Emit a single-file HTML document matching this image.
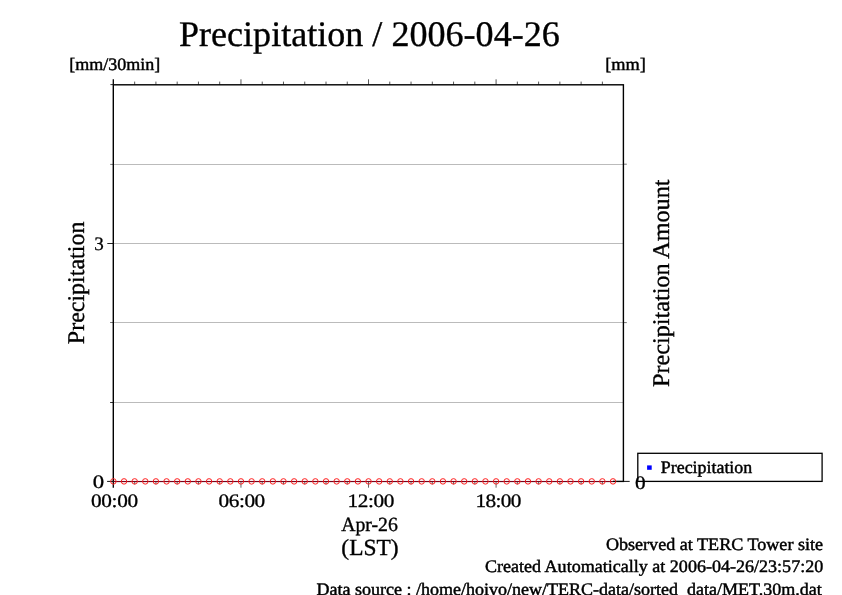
<!DOCTYPE html>
<html><head><meta charset="utf-8"><title>Precipitation / 2006-04-26</title>
<style>
html,body{margin:0;padding:0;background:#fff;width:842px;height:595px;overflow:hidden}
svg{display:block;will-change:transform}
text{font-family:"Liberation Serif","Times New Roman",serif;fill:#000;stroke:#000;stroke-width:0.35px;text-rendering:geometricPrecision} text.d{stroke-width:0.3px} text.s{stroke-width:0.45px}
</style></head><body>
<svg width="842" height="595" viewBox="0 0 842 595">
<rect width="842" height="595" fill="#fff"/>
<line x1="113.30" y1="164.5" x2="623.40" y2="164.5" stroke="#bbb" stroke-width="1"/>
<line x1="113.30" y1="243.5" x2="623.40" y2="243.5" stroke="#bbb" stroke-width="1"/>
<line x1="113.30" y1="322.5" x2="623.40" y2="322.5" stroke="#bbb" stroke-width="1"/>
<line x1="113.30" y1="402.5" x2="623.40" y2="402.5" stroke="#bbb" stroke-width="1"/>
<line x1="113.30" y1="84.80" x2="113.30" y2="79.30" stroke="#000" stroke-width="1.3"/>
<line x1="113.30" y1="481.40" x2="113.30" y2="487.70" stroke="#000" stroke-width="1.3"/>
<line x1="134.66" y1="84.80" x2="134.66" y2="81.60" stroke="#444" stroke-width="0.9"/>
<line x1="134.66" y1="481.40" x2="134.66" y2="484.40" stroke="#555" stroke-width="0.9"/>
<line x1="155.92" y1="84.80" x2="155.92" y2="81.60" stroke="#444" stroke-width="0.9"/>
<line x1="155.92" y1="481.40" x2="155.92" y2="484.40" stroke="#555" stroke-width="0.9"/>
<line x1="177.18" y1="84.80" x2="177.18" y2="81.60" stroke="#444" stroke-width="0.9"/>
<line x1="177.18" y1="481.40" x2="177.18" y2="484.40" stroke="#555" stroke-width="0.9"/>
<line x1="198.44" y1="84.80" x2="198.44" y2="81.60" stroke="#444" stroke-width="0.9"/>
<line x1="198.44" y1="481.40" x2="198.44" y2="484.40" stroke="#555" stroke-width="0.9"/>
<line x1="219.70" y1="84.80" x2="219.70" y2="81.60" stroke="#444" stroke-width="0.9"/>
<line x1="219.70" y1="481.40" x2="219.70" y2="484.40" stroke="#555" stroke-width="0.9"/>
<line x1="240.96" y1="84.80" x2="240.96" y2="79.30" stroke="#444" stroke-width="0.9"/>
<line x1="240.96" y1="481.40" x2="240.96" y2="487.70" stroke="#555" stroke-width="0.9"/>
<line x1="262.22" y1="84.80" x2="262.22" y2="81.60" stroke="#444" stroke-width="0.9"/>
<line x1="262.22" y1="481.40" x2="262.22" y2="484.40" stroke="#555" stroke-width="0.9"/>
<line x1="283.48" y1="84.80" x2="283.48" y2="81.60" stroke="#444" stroke-width="0.9"/>
<line x1="283.48" y1="481.40" x2="283.48" y2="484.40" stroke="#555" stroke-width="0.9"/>
<line x1="304.74" y1="84.80" x2="304.74" y2="81.60" stroke="#444" stroke-width="0.9"/>
<line x1="304.74" y1="481.40" x2="304.74" y2="484.40" stroke="#555" stroke-width="0.9"/>
<line x1="326.00" y1="84.80" x2="326.00" y2="81.60" stroke="#444" stroke-width="0.9"/>
<line x1="326.00" y1="481.40" x2="326.00" y2="484.40" stroke="#555" stroke-width="0.9"/>
<line x1="347.26" y1="84.80" x2="347.26" y2="81.60" stroke="#444" stroke-width="0.9"/>
<line x1="347.26" y1="481.40" x2="347.26" y2="484.40" stroke="#555" stroke-width="0.9"/>
<line x1="368.52" y1="84.80" x2="368.52" y2="79.30" stroke="#444" stroke-width="0.9"/>
<line x1="368.52" y1="481.40" x2="368.52" y2="487.70" stroke="#555" stroke-width="0.9"/>
<line x1="389.78" y1="84.80" x2="389.78" y2="81.60" stroke="#444" stroke-width="0.9"/>
<line x1="389.78" y1="481.40" x2="389.78" y2="484.40" stroke="#555" stroke-width="0.9"/>
<line x1="411.04" y1="84.80" x2="411.04" y2="81.60" stroke="#444" stroke-width="0.9"/>
<line x1="411.04" y1="481.40" x2="411.04" y2="484.40" stroke="#555" stroke-width="0.9"/>
<line x1="432.30" y1="84.80" x2="432.30" y2="81.60" stroke="#444" stroke-width="0.9"/>
<line x1="432.30" y1="481.40" x2="432.30" y2="484.40" stroke="#555" stroke-width="0.9"/>
<line x1="453.56" y1="84.80" x2="453.56" y2="81.60" stroke="#444" stroke-width="0.9"/>
<line x1="453.56" y1="481.40" x2="453.56" y2="484.40" stroke="#555" stroke-width="0.9"/>
<line x1="474.82" y1="84.80" x2="474.82" y2="81.60" stroke="#444" stroke-width="0.9"/>
<line x1="474.82" y1="481.40" x2="474.82" y2="484.40" stroke="#555" stroke-width="0.9"/>
<line x1="496.08" y1="84.80" x2="496.08" y2="79.30" stroke="#444" stroke-width="0.9"/>
<line x1="496.08" y1="481.40" x2="496.08" y2="487.70" stroke="#555" stroke-width="0.9"/>
<line x1="517.34" y1="84.80" x2="517.34" y2="81.60" stroke="#444" stroke-width="0.9"/>
<line x1="517.34" y1="481.40" x2="517.34" y2="484.40" stroke="#555" stroke-width="0.9"/>
<line x1="538.60" y1="84.80" x2="538.60" y2="81.60" stroke="#444" stroke-width="0.9"/>
<line x1="538.60" y1="481.40" x2="538.60" y2="484.40" stroke="#555" stroke-width="0.9"/>
<line x1="559.86" y1="84.80" x2="559.86" y2="81.60" stroke="#444" stroke-width="0.9"/>
<line x1="559.86" y1="481.40" x2="559.86" y2="484.40" stroke="#555" stroke-width="0.9"/>
<line x1="581.12" y1="84.80" x2="581.12" y2="81.60" stroke="#444" stroke-width="0.9"/>
<line x1="581.12" y1="481.40" x2="581.12" y2="484.40" stroke="#555" stroke-width="0.9"/>
<line x1="602.38" y1="84.80" x2="602.38" y2="81.60" stroke="#444" stroke-width="0.9"/>
<line x1="602.38" y1="481.40" x2="602.38" y2="484.40" stroke="#555" stroke-width="0.9"/>
<line x1="113.30" y1="84.6" x2="110.4" y2="84.6" stroke="#333" stroke-width="1"/>
<line x1="113.30" y1="164.4" x2="110.2" y2="164.4" stroke="#777" stroke-width="1"/>
<line x1="113.30" y1="243.5" x2="107.3" y2="243.5" stroke="#222" stroke-width="1"/>
<line x1="113.30" y1="322.5" x2="110.1" y2="322.5" stroke="#777" stroke-width="1"/>
<line x1="113.30" y1="402.5" x2="110.1" y2="402.5" stroke="#333" stroke-width="1"/>
<line x1="113.30" y1="481.4" x2="107.1" y2="481.4" stroke="#111" stroke-width="1"/>
<line x1="623.40" y1="481.4" x2="629.7" y2="481.4" stroke="#111" stroke-width="1"/>
<line x1="623.40" y1="322.6" x2="626.8" y2="322.6" stroke="#777" stroke-width="1"/>
<line x1="623.40" y1="164.2" x2="626.8" y2="164.2" stroke="#777" stroke-width="1"/>
<rect x="113.3" y="84.8" width="510.10" height="396.60" fill="none" stroke="#000" stroke-width="1.4"/>
<line x1="114.3" y1="480.5" x2="613.01" y2="480.5" stroke="#fff" stroke-width="1" stroke-opacity="0.85"/>
<line x1="113.40" y1="481.5" x2="613.01" y2="481.5" stroke="#7d0019" stroke-width="1.1"/>
<circle cx="113.40" cy="481.4" r="2.75" fill="none" stroke="#ff1f1f" stroke-width="1.0"/>
<circle cx="124.03" cy="481.4" r="2.75" fill="none" stroke="#ff1f1f" stroke-width="1.0"/>
<circle cx="134.66" cy="481.4" r="2.75" fill="none" stroke="#ff1f1f" stroke-width="1.0"/>
<circle cx="145.29" cy="481.4" r="2.75" fill="none" stroke="#ff1f1f" stroke-width="1.0"/>
<circle cx="155.92" cy="481.4" r="2.75" fill="none" stroke="#ff1f1f" stroke-width="1.0"/>
<circle cx="166.55" cy="481.4" r="2.75" fill="none" stroke="#ff1f1f" stroke-width="1.0"/>
<circle cx="177.18" cy="481.4" r="2.75" fill="none" stroke="#ff1f1f" stroke-width="1.0"/>
<circle cx="187.81" cy="481.4" r="2.75" fill="none" stroke="#ff1f1f" stroke-width="1.0"/>
<circle cx="198.44" cy="481.4" r="2.75" fill="none" stroke="#ff1f1f" stroke-width="1.0"/>
<circle cx="209.07" cy="481.4" r="2.75" fill="none" stroke="#ff1f1f" stroke-width="1.0"/>
<circle cx="219.70" cy="481.4" r="2.75" fill="none" stroke="#ff1f1f" stroke-width="1.0"/>
<circle cx="230.33" cy="481.4" r="2.75" fill="none" stroke="#ff1f1f" stroke-width="1.0"/>
<circle cx="240.96" cy="481.4" r="2.75" fill="none" stroke="#ff1f1f" stroke-width="1.0"/>
<circle cx="251.59" cy="481.4" r="2.75" fill="none" stroke="#ff1f1f" stroke-width="1.0"/>
<circle cx="262.22" cy="481.4" r="2.75" fill="none" stroke="#ff1f1f" stroke-width="1.0"/>
<circle cx="272.85" cy="481.4" r="2.75" fill="none" stroke="#ff1f1f" stroke-width="1.0"/>
<circle cx="283.48" cy="481.4" r="2.75" fill="none" stroke="#ff1f1f" stroke-width="1.0"/>
<circle cx="294.11" cy="481.4" r="2.75" fill="none" stroke="#ff1f1f" stroke-width="1.0"/>
<circle cx="304.74" cy="481.4" r="2.75" fill="none" stroke="#ff1f1f" stroke-width="1.0"/>
<circle cx="315.37" cy="481.4" r="2.75" fill="none" stroke="#ff1f1f" stroke-width="1.0"/>
<circle cx="326.00" cy="481.4" r="2.75" fill="none" stroke="#ff1f1f" stroke-width="1.0"/>
<circle cx="336.63" cy="481.4" r="2.75" fill="none" stroke="#ff1f1f" stroke-width="1.0"/>
<circle cx="347.26" cy="481.4" r="2.75" fill="none" stroke="#ff1f1f" stroke-width="1.0"/>
<circle cx="357.89" cy="481.4" r="2.75" fill="none" stroke="#ff1f1f" stroke-width="1.0"/>
<circle cx="368.52" cy="481.4" r="2.75" fill="none" stroke="#ff1f1f" stroke-width="1.0"/>
<circle cx="379.15" cy="481.4" r="2.75" fill="none" stroke="#ff1f1f" stroke-width="1.0"/>
<circle cx="389.78" cy="481.4" r="2.75" fill="none" stroke="#ff1f1f" stroke-width="1.0"/>
<circle cx="400.41" cy="481.4" r="2.75" fill="none" stroke="#ff1f1f" stroke-width="1.0"/>
<circle cx="411.04" cy="481.4" r="2.75" fill="none" stroke="#ff1f1f" stroke-width="1.0"/>
<circle cx="421.67" cy="481.4" r="2.75" fill="none" stroke="#ff1f1f" stroke-width="1.0"/>
<circle cx="432.30" cy="481.4" r="2.75" fill="none" stroke="#ff1f1f" stroke-width="1.0"/>
<circle cx="442.93" cy="481.4" r="2.75" fill="none" stroke="#ff1f1f" stroke-width="1.0"/>
<circle cx="453.56" cy="481.4" r="2.75" fill="none" stroke="#ff1f1f" stroke-width="1.0"/>
<circle cx="464.19" cy="481.4" r="2.75" fill="none" stroke="#ff1f1f" stroke-width="1.0"/>
<circle cx="474.82" cy="481.4" r="2.75" fill="none" stroke="#ff1f1f" stroke-width="1.0"/>
<circle cx="485.45" cy="481.4" r="2.75" fill="none" stroke="#ff1f1f" stroke-width="1.0"/>
<circle cx="496.08" cy="481.4" r="2.75" fill="none" stroke="#ff1f1f" stroke-width="1.0"/>
<circle cx="506.71" cy="481.4" r="2.75" fill="none" stroke="#ff1f1f" stroke-width="1.0"/>
<circle cx="517.34" cy="481.4" r="2.75" fill="none" stroke="#ff1f1f" stroke-width="1.0"/>
<circle cx="527.97" cy="481.4" r="2.75" fill="none" stroke="#ff1f1f" stroke-width="1.0"/>
<circle cx="538.60" cy="481.4" r="2.75" fill="none" stroke="#ff1f1f" stroke-width="1.0"/>
<circle cx="549.23" cy="481.4" r="2.75" fill="none" stroke="#ff1f1f" stroke-width="1.0"/>
<circle cx="559.86" cy="481.4" r="2.75" fill="none" stroke="#ff1f1f" stroke-width="1.0"/>
<circle cx="570.49" cy="481.4" r="2.75" fill="none" stroke="#ff1f1f" stroke-width="1.0"/>
<circle cx="581.12" cy="481.4" r="2.75" fill="none" stroke="#ff1f1f" stroke-width="1.0"/>
<circle cx="591.75" cy="481.4" r="2.75" fill="none" stroke="#ff1f1f" stroke-width="1.0"/>
<circle cx="602.38" cy="481.4" r="2.75" fill="none" stroke="#ff1f1f" stroke-width="1.0"/>
<circle cx="613.01" cy="481.4" r="2.75" fill="none" stroke="#ff1f1f" stroke-width="1.0"/>
<rect x="637.8" y="453.3" width="184.3" height="28.1" fill="none" stroke="#000" stroke-width="1.3"/>
<rect x="647.1" y="465.4" width="4.6" height="4.4" fill="#0000ff"/>
<text x="178.99" y="45.9" font-size="36" textLength="380.79" lengthAdjust="spacingAndGlyphs">Precipitation / 2006-04-26</text>
<text class="s" x="69.17" y="69.9" font-size="17.5" textLength="91.07" lengthAdjust="spacingAndGlyphs">[mm/30min]</text>
<text class="s" x="605.16" y="69.9" font-size="17.5" textLength="40.68" lengthAdjust="spacingAndGlyphs">[mm]</text>
<text x="341.16" y="530.7" font-size="20" textLength="56.70" lengthAdjust="spacingAndGlyphs">Apr-26</text>
<text x="341.36" y="555.4" font-size="23" textLength="57.26" lengthAdjust="spacingAndGlyphs">(LST)</text>
<text class="s" x="605.92" y="549.6" font-size="17.5" textLength="217.19" lengthAdjust="spacingAndGlyphs">Observed at TERC Tower site</text>
<text class="s" x="484.97" y="572.0" font-size="17.5" textLength="338.25" lengthAdjust="spacingAndGlyphs">Created Automatically at 2006-04-26/23:57:20</text>
<text class="s" x="316.53" y="595" font-size="17.5" textLength="505.19" lengthAdjust="spacingAndGlyphs">Data source : /home/hoivo/new/TERC-data/sorted_data/MET.30m.dat</text>
<text class="s" x="660.86" y="472.8" font-size="17.5" textLength="91.34" lengthAdjust="spacingAndGlyphs">Precipitation</text>
<text class="d" transform="translate(94.32,249.7) scale(1.0,1)" font-size="19">3</text>
<text class="d" transform="translate(92.67,487.7) scale(1.2,1)" font-size="19">0</text>
<text class="d" transform="translate(634.89,488.7) scale(1.12,1)" font-size="19">0</text>
<text class="d" transform="translate(90.95,506.6) scale(1.12,1)" font-size="19" textLength="42.11" lengthAdjust="spacing">00:00</text>
<text class="d" transform="translate(218.59,506.6) scale(1.12,1)" font-size="19" textLength="41.62" lengthAdjust="spacing">06:00</text>
<text class="d" transform="translate(347.47,506.6) scale(1.12,1)" font-size="19" textLength="41.82" lengthAdjust="spacing">12:00</text>
<text class="d" transform="translate(475.57,506.6) scale(1.12,1)" font-size="19" textLength="40.93" lengthAdjust="spacing">18:00</text>
<text transform="translate(84.0,344.2) rotate(-90)" font-size="24">Precipitation</text>
<text transform="translate(668.9,387.0) rotate(-90)" font-size="24" textLength="207.5" lengthAdjust="spacingAndGlyphs">Precipitation Amount</text>
</svg>
</body></html>
